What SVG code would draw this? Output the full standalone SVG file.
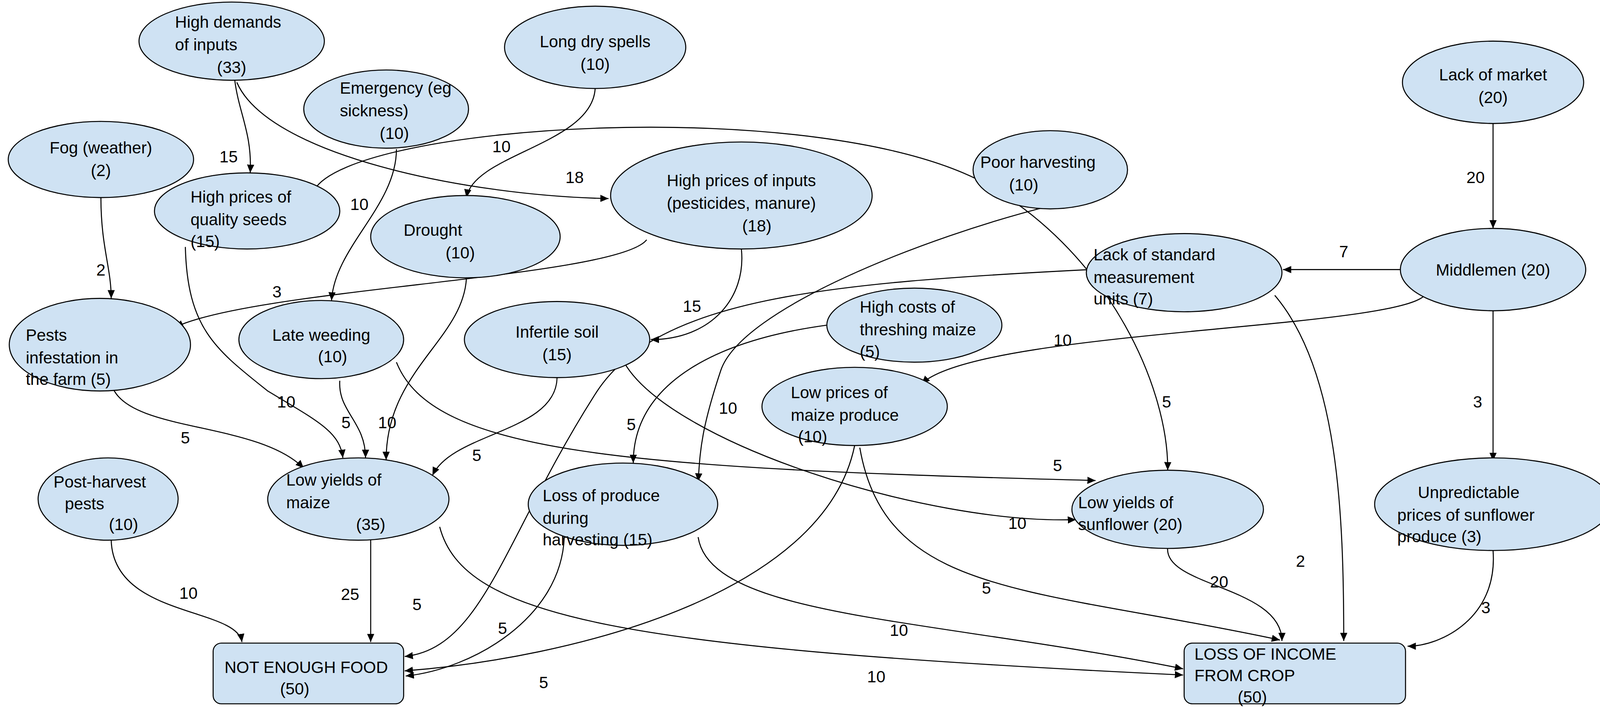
<svg xmlns="http://www.w3.org/2000/svg" width="4133" height="1824" viewBox="0 0 4133 1824">
<style>
.n ellipse,.n rect{fill:#cfe2f3;stroke:#000;stroke-width:1}
text{font-family:"Liberation Sans",Arial,sans-serif;font-size:16px;fill:#000}
.c{text-anchor:middle}
#edges path{fill:none;stroke:#000;stroke-width:1;marker-end:url(#ah)}
</style>
<defs><marker id="ah" markerUnits="userSpaceOnUse" markerWidth="10" markerHeight="8" refX="8" refY="4" orient="auto"><path d="M0,0.5 L8,4 L0,7.5 z" fill="#000"/></marker></defs>
<rect width="4133" height="1824" fill="#fff"/>
<g transform="scale(2.636)">
<g id="edges">
<path d="M228,78 C232,110 245,130 243,168"/>
<path d="M230,80 C260,150 450,190 591,193"/>
<path d="M305,185 C340,120 800,90 960,180 C1080,250 1135,380 1134,457"/>
<path d="M385,145 C385,200 325,240 322,292"/>
<path d="M578,86 C575,140 460,150 453,192"/>
<path d="M98,192 C98,240 108,260 108,290"/>
<path d="M628,233 C600,270 250,280 170,318"/>
<path d="M720,242 C725,290 690,330 632,330"/>
<path d="M180,240 C182,320 210,340 260,380 C310,410 330,420 333,445"/>
<path d="M453,270 C450,330 375,360 375,447"/>
<path d="M330,370 C328,400 355,410 355,445"/>
<path d="M385,352 C420,440 600,455 1064,467"/>
<path d="M110,378 C130,420 250,410 295,455"/>
<path d="M541,367 C540,420 440,420 420,462"/>
<path d="M606,352 C650,430 900,510 1045,505"/>
<path d="M1020,200 C900,230 720,300 700,360 C680,420 680,440 678,468"/>
<path d="M1058,262 C800,275 640,290 580,380 C490,520 470,630 393,638"/>
<path d="M803,316 C700,330 615,370 615,450"/>
<path d="M1360,262 L1246,262"/>
<path d="M1450,120 L1450,222"/>
<path d="M1385,285 C1370,320 950,320 895,373"/>
<path d="M1450,302 L1450,448"/>
<path d="M830,433 C800,580 550,640 393,652"/>
<path d="M835,435 C860,580 1000,570 1243,622"/>
<path d="M1134,532 C1130,570 1245,570 1245,623"/>
<path d="M1238,287 C1300,360 1305,500 1305,623"/>
<path d="M1450,535 C1455,600 1400,628 1367,628"/>
<path d="M108,525 C110,600 230,590 235,624"/>
<path d="M360,525 L360,624"/>
<path d="M427,512 C450,600 600,630 1149,656"/>
<path d="M548,522 C545,600 460,650 394,657"/>
<path d="M678,522 C690,600 900,600 1149,650"/>
<g class="c">
<text x="222" y="158">15</text><text x="558" y="178">18</text><text x="1133" y="396">5</text>
<text x="349" y="204">10</text><text x="487" y="148">10</text><text x="98" y="268">2</text>
<text x="269" y="289">3</text><text x="672" y="303">15</text><text x="278" y="396">10</text>
<text x="376" y="416">10</text><text x="336" y="416">5</text><text x="1027" y="458">5</text>
<text x="180" y="431">5</text><text x="463" y="448">5</text><text x="988" y="514">10</text>
<text x="707" y="402">10</text><text x="405" y="593">5</text><text x="613" y="418">5</text>
<text x="1305" y="250">7</text><text x="1433" y="178">20</text><text x="1032" y="336">10</text>
<text x="1435" y="396">3</text><text x="528" y="669">5</text><text x="958" y="577">5</text>
<text x="1184" y="571">20</text><text x="1263" y="551">2</text><text x="1443" y="596">3</text>
<text x="183" y="582">10</text><text x="340" y="583">25</text><text x="851" y="663">10</text>
<text x="488" y="616">5</text><text x="873" y="618">10</text>
</g>
</g>
<g id="n1" class="n"><ellipse cx="225" cy="40" rx="90" ry="38"/><text x="170" y="27">High demands</text><text x="170" y="49">of inputs</text><text x="225" y="71" class="c">(33)</text></g>
<g id="n2" class="n"><ellipse cx="375" cy="106" rx="80" ry="38"/><text x="330" y="91">Emergency (eg</text><text x="330" y="113">sickness)</text><text x="383" y="135" class="c">(10)</text></g>
<g id="n3" class="n"><ellipse cx="578" cy="46" rx="88" ry="40"/><text x="578" y="46" class="c">Long dry spells</text><text x="578" y="68" class="c">(10)</text></g>
<g id="n4" class="n"><ellipse cx="1450" cy="80" rx="88" ry="40"/><text x="1450" y="78" class="c">Lack of market</text><text x="1450" y="100" class="c">(20)</text></g>
<g id="n5" class="n"><ellipse cx="98" cy="155" rx="90" ry="37"/><text x="98" y="149" class="c">Fog (weather)</text><text x="98" y="171" class="c">(2)</text></g>
<g id="n6" class="n"><ellipse cx="240" cy="205" rx="90" ry="37"/><text x="185" y="197">High prices of</text><text x="185" y="219">quality seeds</text><text x="185" y="240">(15)</text></g>
<g id="n7" class="n"><ellipse cx="720" cy="190" rx="127" ry="52"/><text x="720" y="181" class="c">High prices of inputs</text><text x="720" y="203" class="c">(pesticides, manure)</text><text x="735" y="225" class="c">(18)</text></g>
<g id="n8" class="n"><ellipse cx="452" cy="230" rx="92" ry="40"/><text x="392" y="229">Drought</text><text x="447" y="251" class="c">(10)</text></g>
<g id="n9" class="n"><ellipse cx="1020" cy="165" rx="75" ry="38"/><text x="952" y="163">Poor harvesting</text><text x="980" y="185">(10)</text></g>
<g id="n10" class="n"><ellipse cx="1150" cy="265" rx="95" ry="38"/><text x="1062" y="253">Lack of standard</text><text x="1062" y="275">measurement</text><text x="1062" y="296">units (7)</text></g>
<g id="n11" class="n"><ellipse cx="1450" cy="262" rx="90" ry="40"/><text x="1450" y="268" class="c">Middlemen (20)</text></g>
<g id="n12" class="n"><ellipse cx="97" cy="335" rx="88" ry="45"/><text x="25" y="331">Pests</text><text x="25" y="353">infestation in</text><text x="25" y="374">the farm (5)</text></g>
<g id="n13" class="n"><ellipse cx="312" cy="330" rx="80" ry="38"/><text x="312" y="331" class="c">Late weeding</text><text x="323" y="352" class="c">(10)</text></g>
<g id="n14" class="n"><ellipse cx="541" cy="330" rx="90" ry="37"/><text x="541" y="328" class="c">Infertile soil</text><text x="541" y="350" class="c">(15)</text></g>
<g id="n15" class="n"><ellipse cx="888" cy="316" rx="85" ry="36"/><text x="835" y="304">High costs of</text><text x="835" y="326">threshing maize</text><text x="835" y="347">(5)</text></g>
<g id="n16" class="n"><ellipse cx="830" cy="395" rx="90" ry="38"/><text x="768" y="387">Low prices of</text><text x="768" y="409">maize produce</text><text x="775" y="430">(10)</text></g>
<g id="n17" class="n"><ellipse cx="105" cy="485" rx="68" ry="40"/><text x="52" y="474">Post-harvest</text><text x="63" y="495">pests</text><text x="120" y="515" class="c">(10)</text></g>
<g id="n18" class="n"><ellipse cx="348" cy="485" rx="88" ry="40"/><text x="278" y="472">Low yields of</text><text x="278" y="494">maize</text><text x="360" y="515" class="c">(35)</text></g>
<g id="n19" class="n"><ellipse cx="605" cy="490" rx="92" ry="40"/><text x="527" y="487">Loss of produce</text><text x="527" y="509">during</text><text x="527" y="530">harvesting (15)</text></g>
<g id="n20" class="n"><ellipse cx="1134" cy="495" rx="93" ry="38"/><text x="1047" y="494">Low yields of</text><text x="1047" y="515">sunflower (20)</text></g>
<g id="n21" class="n"><ellipse cx="1450" cy="490" rx="115" ry="45"/><text x="1377" y="484">Unpredictable</text><text x="1357" y="506">prices of sunflower</text><text x="1357" y="527">produce (3)</text></g>
<g id="n22" class="n"><rect x="207" y="625" width="185" height="59" rx="8"/><text x="218" y="654">NOT ENOUGH FOOD</text><text x="272" y="675">(50)</text></g>
<g id="n23" class="n"><rect x="1150" y="625" width="215" height="59" rx="8"/><text x="1160" y="641">LOSS OF INCOME</text><text x="1160" y="662">FROM CROP</text><text x="1202" y="683">(50)</text></g>
</g>
</svg>
